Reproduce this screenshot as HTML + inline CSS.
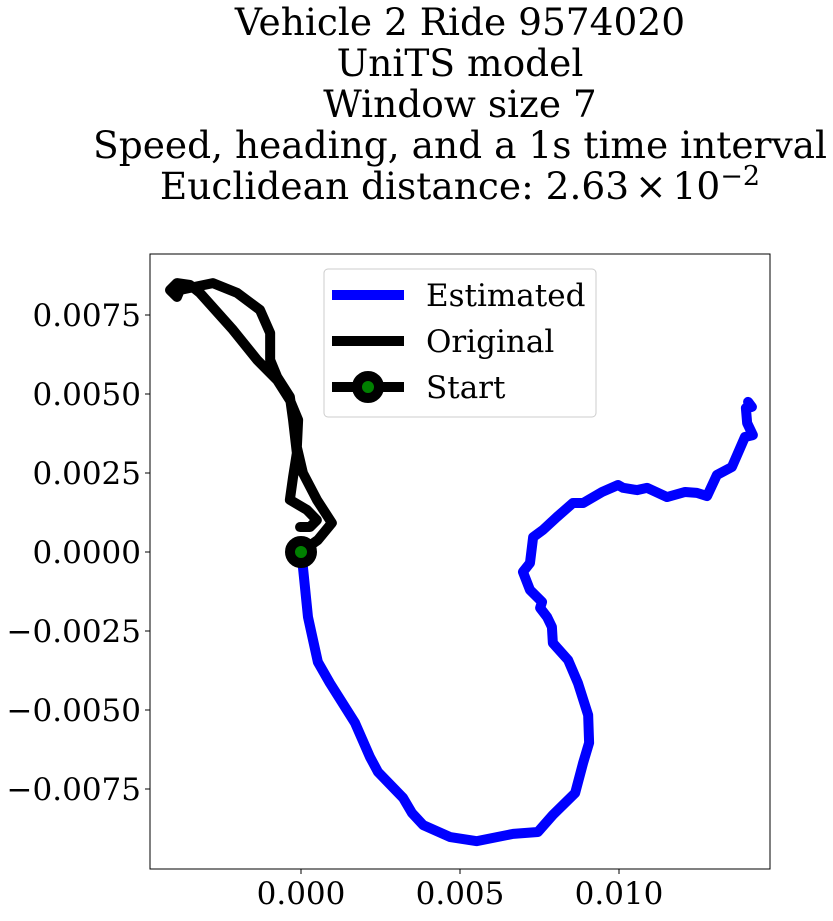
<!DOCTYPE html>
<html><head><meta charset="utf-8"><style>
body{margin:0;background:#fff;}
svg text{font-family:"DejaVu Serif","Liberation Serif",serif;fill:#000;}
</style></head><body>
<svg id="chart" width="833" height="916" xmlns="http://www.w3.org/2000/svg">
<g font-size="37.5" text-anchor="middle">
<text x="460" y="35">Vehicle 2 Ride 9574020</text>
<text x="460" y="76">UniTS model</text>
<text x="460" y="117">Window size 7</text>
<text x="460" y="158">Speed, heading, and a 1s time interval</text>
<text x="460" y="199">Euclidean distance: 2.63<tspan dx="6">×</tspan><tspan dx="6">10</tspan><tspan dy="-14" font-size="27">−2</tspan></text>
</g>
<g id="plot"></g>
</svg>
<script>
const estX=[0,0.00006,0.00022,0.00053,0.00091,0.00170,0.00217,0.00242,0.00321,0.00349,0.00384,0.00469,0.00553,0.00667,0.00745,0.00792,0.00862,0.00887,0.00906,0.00903,0.00871,0.00840,0.00792,0.00789,0.00774,0.00752,0.00758,0.00720,0.00698,0.00720,0.00730,0.00761,0.00805,0.00855,0.00887,0.00947,0.00997,0.01013,0.01057,0.01088,0.01151,0.01208,0.01245,0.01277,0.01308,0.01355,0.01396,0.01421,0.01403,0.01399,0.01418,0.01406];
const estY=[0,-0.00047,-0.00206,-0.00348,-0.00415,-0.00541,-0.00649,-0.00696,-0.00778,-0.00826,-0.00864,-0.00902,-0.00915,-0.00892,-0.00886,-0.00832,-0.00763,-0.00668,-0.00604,-0.00516,-0.00415,-0.00342,-0.00288,-0.00237,-0.00206,-0.00177,-0.00158,-0.00120,-0.00063,-0.00035,0.00047,0.00070,0.00111,0.00155,0.00155,0.00190,0.00212,0.00203,0.00196,0.00203,0.00174,0.00190,0.00187,0.00177,0.00244,0.00269,0.00364,0.00370,0.00408,0.00456,0.00459,0.00475];
const origX=[0,0.00053,0.00097,0.00050,0.00006,-0.00013,-0.00009,-0.00035,-0.00075,-0.00138,-0.00214,-0.00318,-0.00349,-0.00390,-0.00412,-0.00390,-0.00381,-0.00277,-0.00201,-0.00129,-0.00097,-0.00097,-0.00075,-0.00035,-0.00025,-0.00013,-0.00025,-0.00035,0.00019,0.00050,0.00028,-0.00003];
const origY=[0,0.00038,0.00092,0.00165,0.00250,0.00332,0.00418,0.00481,0.00544,0.00608,0.00703,0.00820,0.00845,0.00851,0.00829,0.00807,0.00829,0.00851,0.00820,0.00766,0.00693,0.00608,0.00554,0.00491,0.00418,0.00313,0.00237,0.00165,0.00133,0.00101,0.00079,0.00079];
const xTicks=[0,0.005,0.010];
const xTickLabels=["0.000","0.005","0.010"];
const yTicks=[0.0075,0.005,0.0025,0,-0.0025,-0.005,-0.0075];
const yTickLabels=["0.0075","0.0050","0.0025","0.0000","−0.0025","−0.0050","−0.0075"];
const startPt=[0,0];

const NS="http://www.w3.org/2000/svg";
const L=150,T=254,R=770,B=869;
const sx=v=>301+v*31800;
const sy=v=>552-v*31600;
const plot=document.getElementById('plot');
function mk(tag,attrs,parent){const e=document.createElementNS(NS,tag);for(const k in attrs)e.setAttribute(k,attrs[k]);(parent||plot).appendChild(e);return e;}

const clip=mk('clipPath',{id:'cp'});mk('rect',{x:L,y:T,width:R-L,height:B-T},clip);

function line(xs,ys,color,name){
  const p=mk('polyline',{points:xs.map((x,i)=>sx(x)+','+sy(ys[i])).join(' '),fill:'none',stroke:color,'stroke-width':10,'stroke-linejoin':'round','stroke-linecap':'round','clip-path':'url(#cp)'});
  
  
}
line(estX,estY,'#0000ff','estimated-line');
line(origX,origY,'#000','original-line');
const sm=mk('circle',{cx:sx(startPt[0]),cy:sy(startPt[1]),r:11,fill:'green',stroke:'#000','stroke-width':10});



const frame=mk('rect',{x:L,y:T,width:R-L,height:B-T,fill:'none',stroke:'#000','stroke-width':1});



xTicks.forEach((t,i)=>{
  mk('line',{x1:sx(t),x2:sx(t),y1:B,y2:B+5,stroke:'#000'});
  const tx=mk('text',{x:sx(t),y:B+35,'font-size':31,'text-anchor':'middle'});
  tx.textContent=xTickLabels[i];
  
  
});
yTicks.forEach((t,i)=>{
  mk('line',{x1:L-5,x2:L,y1:sy(t),y2:sy(t),stroke:'#000'});
  const tx=mk('text',{x:L-9,y:sy(t)+11,'font-size':31,'text-anchor':'end'});
  tx.textContent=yTickLabels[i];
  
  
});

const lg=mk('g',{});


mk('rect',{x:324,y:269,width:272,height:148,rx:4,fill:'#fff','fill-opacity':0.8,stroke:'#ccc'},lg);
const entries=[['#0000ff','Estimated',false],['#000','Original',false],['#000','Start',true]];
entries.forEach((e,i)=>{
  const y=295+i*46;
  const g=mk('g',{},lg);
  
  
  mk('line',{x1:332,x2:404,y1:y,y2:y,stroke:e[0],'stroke-width':10},g);
  if(e[2])mk('circle',{cx:368,cy:y,r:11,fill:'green',stroke:'#000','stroke-width':10},g);
  const t=mk('text',{x:426,y:y+11,'font-size':31},g);t.textContent=e[1];
});
</script>
</body></html>
